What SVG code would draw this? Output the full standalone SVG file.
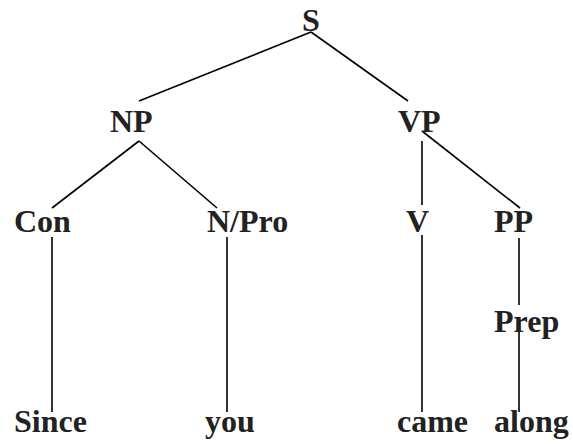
<svg xmlns="http://www.w3.org/2000/svg" width="573" height="444" viewBox="0 0 573 444">
<style>
text{font-family:"Liberation Serif","Times New Roman",serif;font-weight:bold;font-size:32px;fill:#222}
.e line{stroke:#000;stroke-width:1.6}
</style>
<rect width="573" height="444" fill="#fff"/>
<g class="e" id="connectors">
<line x1="311" y1="32" x2="139" y2="101"/>
<line x1="311" y1="32" x2="408" y2="101"/>
<line x1="139" y1="141" x2="52" y2="208"/>
<line x1="139" y1="141" x2="217" y2="208"/>
<line x1="422" y1="141" x2="422" y2="205"/>
<line x1="422" y1="131" x2="520" y2="208"/>
<line x1="52" y1="237" x2="52" y2="412"/>
<line x1="227" y1="237" x2="227" y2="412"/>
<line x1="422" y1="235" x2="422" y2="412"/>
<line x1="519" y1="238" x2="519" y2="305"/>
<line x1="519" y1="330" x2="519" y2="412"/>
</g>
<g id="S"><text x="302" y="31">S</text></g>
<g id="NP"><text x="110" y="132">NP</text></g>
<g id="VP"><text x="398" y="132">VP</text></g>
<g id="Con"><text x="14" y="232">Con</text></g>
<g id="NPro"><text x="207" y="232">N/Pro</text></g>
<g id="V"><text x="406" y="232">V</text></g>
<g id="PP"><text x="494" y="232">PP</text></g>
<g id="Prep"><text x="494" y="332">Prep</text></g>
<g id="Since"><text x="14" y="432">Since</text></g>
<g id="you"><text x="205" y="432">you</text></g>
<g id="came"><text x="397" y="432">came</text></g>
<g id="along"><text x="494" y="432">along</text></g>
</svg>
